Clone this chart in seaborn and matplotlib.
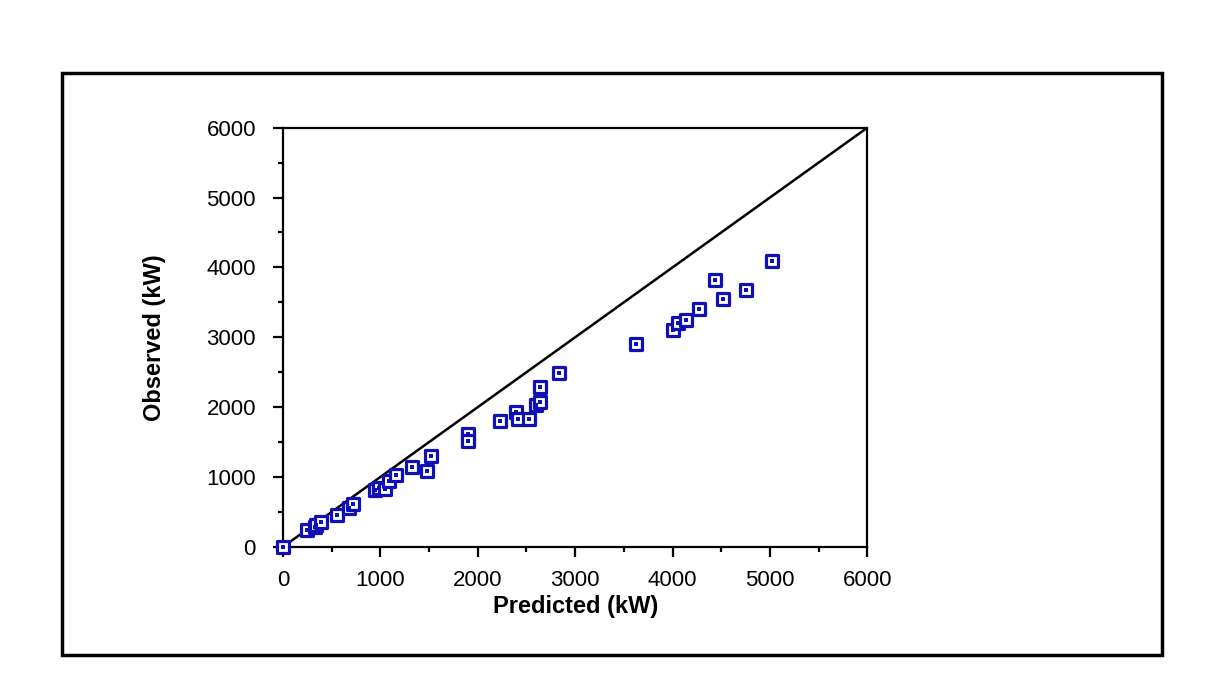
"""
Observed vs predicted power, with the 1:1 line.
"""

import matplotlib
matplotlib.use("Agg")
import matplotlib.pyplot as plt
import pandas as pd
import seaborn as sns
from matplotlib.patches import Rectangle
from matplotlib.ticker import MultipleLocator

# ── data ─────────────────────────────────────────────────────────────────────
predicted = [0, 250, 330, 340, 390, 555, 680, 720, 940, 990, 1050, 1090, 1160,
             1320, 1480, 1515, 1900, 1900, 2225, 2390, 2415, 2530, 2600, 2635,
             2635, 2830, 3620, 4010, 4060, 4140, 4270, 4440, 4520, 4750, 5020]
observed = [0, 245, 280, 310, 350, 457, 560, 614, 814, 845, 830, 950, 1035,
            1150, 1080, 1300, 1610, 1520, 1800, 1930, 1830, 1830, 2030, 2071,
            2290, 2486, 2900, 3100, 3200, 3243, 3400, 3814, 3543, 3671, 4086]
line_x = [0, 6000]
line_y = [0, 6000]
ticks = [0, 1000, 2000, 3000, 4000, 5000, 6000]

MARKER_COLOR = "#1010b8"

sns.set_theme(style="white")
plt.rcParams["font.family"] = ["Liberation Sans", "DejaVu Sans"]
plt.rcParams["text.color"] = "black"
plt.rcParams["axes.labelcolor"] = "black"

df = pd.DataFrame({"Predicted": predicted, "Observed": observed})
line_df = pd.DataFrame({"x": line_x, "y": line_y})

fig = plt.figure(figsize=(12.25, 6.94), dpi=100)
ax = fig.add_axes([0.231, 0.212, 0.477, 0.604])

# 1:1 line
sns.lineplot(data=line_df, x="x", y="y", ax=ax, color="black",
             linewidth=1.8, zorder=2)

# hollow squares with a dot in the middle
sns.scatterplot(data=df, x="Predicted", y="Observed", ax=ax, marker="s",
                s=76, facecolor="white", edgecolor=MARKER_COLOR,
                linewidth=2.3, zorder=3, clip_on=False)
sns.scatterplot(data=df, x="Predicted", y="Observed", ax=ax, marker="s",
                s=6, color=MARKER_COLOR, linewidth=0, zorder=4, clip_on=False)

ax.set_xlim(0, 6000)
ax.set_ylim(0, 6000)
ax.set_xticks(ticks)
ax.set_yticks(ticks)
ax.xaxis.set_minor_locator(MultipleLocator(500))
ax.yaxis.set_minor_locator(MultipleLocator(500))
ax.tick_params(which="major", direction="out", length=7.5, width=1.6,
               labelsize=16, color="black", labelcolor="black")
ax.tick_params(which="minor", direction="out", length=3.8, width=1.6,
               color="black")
ax.tick_params(axis="x", which="major", pad=9)
ax.tick_params(axis="y", which="major", pad=12)
ax.tick_params(bottom=True, left=True, which="both")

for sp in ax.spines.values():
    sp.set_color("black")
    sp.set_linewidth(1.6)

ax.set_xlabel("Predicted (kW)", fontsize=17, fontweight="bold", labelpad=3)
ax.set_ylabel("Observed (kW)", fontsize=17, fontweight="bold", labelpad=29)

# outer frame round the whole chart
fig.patches.append(Rectangle((0.0506, 0.056), 0.898, 0.839,
                             transform=fig.transFigure, fill=False,
                             edgecolor="black", linewidth=2.5))

fig.savefig("out.png", dpi=100)
plt.close(fig)
